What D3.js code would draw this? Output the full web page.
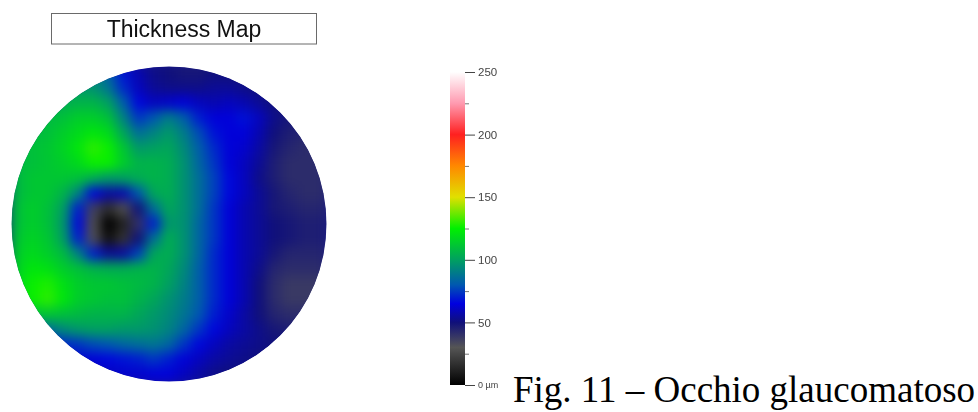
<!DOCTYPE html>
<html>
<head>
<meta charset="utf-8">
<script src="https://cdn.jsdelivr.net/npm/d3@7"></script>
<style>
  html, body { margin: 0; padding: 0; background: #fff; }
  svg { display: block; }
</style>
</head>
<body>
<div id="chart"></div>
<script>
var width = 978,
    height = 412;

// thickness in microns, one row per 15px from the top of the disc
var thickness = [
  [ 96, 96, 96, 96, 96, 94, 82, 68, 58, 52, 50, 48, 48, 50, 50, 48, 48, 48, 48, 48, 48],
  [ 98, 98, 98, 98, 98, 96, 88, 72, 60, 54, 52, 52, 52, 54, 54, 52, 50, 48, 48, 48, 48],
  [102,102,102,104,106,106,100, 82, 66, 60, 62, 64, 60, 58, 60, 58, 54, 50, 48, 48, 48],
  [106,108,108,110,114,114,110, 92, 74, 80, 90, 82, 70, 64, 64, 68, 60, 52, 48, 46, 46],
  [108,108,110,114,118,122,118,102, 86, 92, 98, 90, 78, 68, 64, 64, 58, 50, 46, 44, 44],
  [108,110,112,116,122,130,126,112, 98,100,102, 94, 82, 72, 64, 62, 56, 48, 44, 42, 42],
  [108,110,112,114,118,126,126,114,106,106,104, 96, 84, 74, 64, 60, 54, 46, 42, 42, 42],
  [108,112,112,112,110,104, 98,100,104,106,104, 96, 86, 76, 66, 60, 52, 46, 42, 42, 42],
  [108,112,112,106, 92, 66, 56, 58, 80,102,104, 96, 86, 76, 66, 60, 54, 48, 44, 42, 42],
  [110,114,110,100, 70, 36, 16, 28, 50, 86,102, 96, 86, 74, 64, 58, 54, 48, 46, 44, 44],
  [110,114,110, 98, 66, 28,  0, 12, 40, 70, 98, 96, 84, 74, 64, 58, 54, 50, 48, 46, 46],
  [112,116,112,100, 70, 32,  6, 18, 50, 86,104, 96, 84, 74, 64, 58, 54, 50, 48, 46, 46],
  [114,118,114,108, 92, 70, 54, 56, 76,102,104, 96, 84, 72, 64, 58, 54, 48, 44, 44, 44],
  [116,122,120,114,110,106,104,104,106,106,102, 94, 82, 72, 64, 58, 52, 44, 42, 42, 42],
  [118,126,128,120,114,112,112,110,108,106,100, 92, 82, 72, 64, 58, 50, 42, 38, 38, 38],
  [118,126,130,122,114,112,110,110,106,102, 96, 90, 82, 72, 64, 58, 50, 42, 38, 38, 38],
  [106,110,112,110,108,106,106,106,102, 98, 94, 88, 80, 70, 62, 56, 50, 44, 42, 42, 42],
  [ 80, 80, 86, 94, 98,100,100, 98, 98, 96, 92, 84, 74, 66, 60, 56, 52, 48, 46, 46, 46],
  [ 66, 66, 68, 72, 74, 78, 80, 84, 86, 88, 84, 74, 66, 60, 56, 54, 52, 50, 50, 50, 50],
  [ 60, 60, 60, 60, 62, 64, 66, 68, 70, 74, 70, 64, 60, 56, 54, 52, 50, 50, 50, 50, 50],
  [ 56, 56, 56, 58, 58, 58, 60, 62, 62, 64, 64, 60, 56, 52, 50, 50, 50, 50, 50, 50, 50]
];

var rampValues = [0, 30, 50, 65, 80, 100, 125, 150, 175, 200, 225, 250];
var rampColors = ["#000000", "#555555", "#10107a", "#0000e0", "#0058b0", "#00a060",
                  "#00f000", "#e0e000", "#ff8800", "#ff2020", "#ff9ab0", "#ffffff"];

var majorTicks = [0, 50, 100, 150, 200, 250];
var minorTicks = [25, 75, 125, 175, 225];

var titleText = "Thickness Map";
var captionText = "Fig. 11 \u2013 Occhio glaucomatoso";

var color = d3.scaleLinear().domain(rampValues).range(rampColors).clamp(true);

var svg = d3.select("#chart").append("svg")
    .attr("width", width)
    .attr("height", height);

var defs = svg.append("defs");

var cx = 169, cy = 224, r = 157.5;

defs.append("clipPath").attr("id", "disc")
  .append("circle").attr("cx", cx).attr("cy", cy).attr("r", r);

defs.append("filter").attr("id", "soft")
    .attr("x", "-5%").attr("y", "-5%").attr("width", "110%").attr("height", "110%")
    .attr("color-interpolation-filters", "sRGB")
  .append("feGaussianBlur").attr("stdDeviation", 6);

// jpeg-ish softness on the small text
defs.append("filter").attr("id", "fuzz")
    .attr("color-interpolation-filters", "sRGB")
  .append("feGaussianBlur").attr("stdDeviation", 0.45);

var gridIdx = d3.range(thickness.length);
var x = d3.scaleBand().domain(gridIdx).range([cx - r - 1, cx + r + 1]);
var y = d3.scaleBand().domain(gridIdx).range([cy - r - 1, cy + r + 1]);

var disc = svg.append("g").attr("clip-path", "url(#disc)");

// solid underlay so the blur does not fade out to white at the rim
disc.append("circle").attr("cx", cx).attr("cy", cy).attr("r", r).attr("fill", "#1a1a8a");

var cells = disc.append("g").attr("filter", "url(#soft)");

thickness.forEach(function(row, j) {
  cells.selectAll(null)
      .data(row)
    .enter().append("rect")
      .attr("x", function(d, i) { return x(i) - 0.5; })
      .attr("y", y(j) - 0.5)
      .attr("width", x.bandwidth() + 1)
      .attr("height", y.bandwidth() + 1)
      .attr("fill", function(d) { return color(d); });
});

// title box
svg.append("rect")
    .attr("x", 51.5).attr("y", 13.5)
    .attr("width", 265).attr("height", 30.5)
    .attr("fill", "#fff")
    .attr("stroke", "#6a6a6a");

svg.append("text")
    .attr("x", 184).attr("y", 37)
    .attr("text-anchor", "middle")
    .attr("filter", "url(#fuzz)")
    .style("font-family", "'Liberation Sans', Arial, sans-serif")
    .style("font-size", "23px")
    .attr("fill", "#111")
    .text(titleText);

// colour bar
var barY = d3.scaleLinear().domain([0, 250]).range([385, 72]);

var grad = defs.append("linearGradient").attr("id", "ramp")
    .attr("x1", 0).attr("y1", 1).attr("x2", 0).attr("y2", 0);

grad.selectAll("stop")
    .data(rampValues)
  .enter().append("stop")
    .attr("offset", function(d) { return d / 250; })
    .attr("stop-color", function(d) { return color(d); });

svg.append("rect")
    .attr("x", 450).attr("y", barY(250))
    .attr("width", 15).attr("height", barY(0) - barY(250))
    .attr("fill", "url(#ramp)");

var axis = svg.append("g").attr("transform", "translate(465,0)");

axis.call(d3.axisRight(barY)
    .tickValues(majorTicks)
    .tickSize(10)
    .tickPadding(3)
    .tickFormat(function(d) { return d === 0 ? "0 \u00b5m" : d; }));
axis.select(".domain").remove();
axis.selectAll("line").attr("stroke", "#444");
axis.selectAll("text")
    .attr("filter", "url(#fuzz)")
    .style("font-family", "'Liberation Sans', Arial, sans-serif")
    .style("font-size", function(d) { return d === 0 ? "9px" : "11.5px"; })
    .attr("fill", "#444");

var minor = svg.append("g").attr("transform", "translate(465,0)");
minor.call(d3.axisRight(barY).tickValues(minorTicks).tickSize(4).tickFormat(""));
minor.select(".domain").remove();
minor.selectAll("line").attr("stroke", "#777");

// caption
svg.append("text")
    .attr("x", 513).attr("y", 402)
    .style("font-family", "'Liberation Serif', 'Times New Roman', serif")
    .style("font-size", "37px")
    .attr("fill", "#000")
    .text(captionText);
</script>
</body>
</html>
